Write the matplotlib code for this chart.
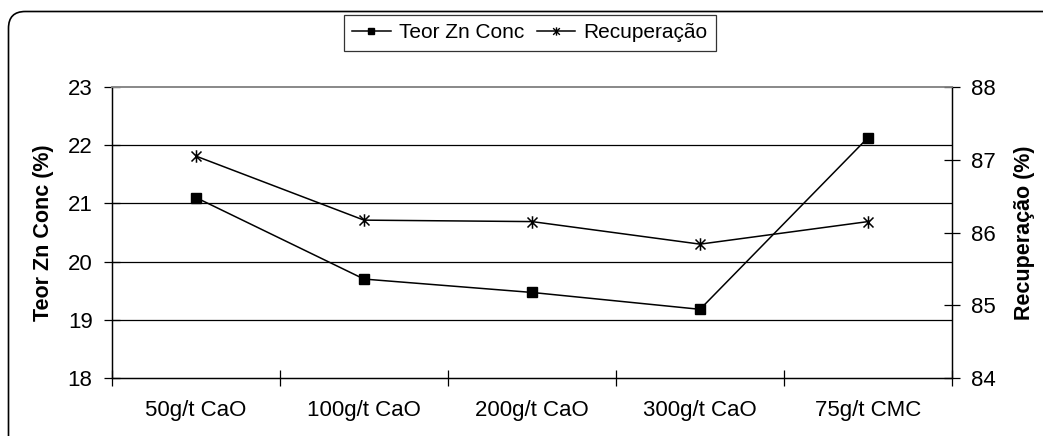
import matplotlib
matplotlib.use("Agg")
import matplotlib.pyplot as plt
from matplotlib.path import Path
from matplotlib.patches import FancyBboxPatch
from matplotlib.lines import Line2D

plt.rcParams['font.family'] = ['Liberation Sans', 'DejaVu Sans']

categories = ["50g/t CaO", "100g/t CaO", "200g/t CaO", "300g/t CaO", "75g/t CMC"]
teor_zn = [21.1, 19.7, 19.47, 19.18, 22.13]
recuperacao = [87.05, 86.17, 86.15, 85.84, 86.15]

left_ticks = [18, 19, 20, 21, 22, 23]
right_ticks = [84, 85, 86, 87, 88]

# asterisk marker: vertical stroke plus two diagonals
star = Path([(0, -1), (0, 1), (-0.8, -0.8), (0.8, 0.8), (-0.8, 0.8), (0.8, -0.8)],
            [Path.MOVETO, Path.LINETO, Path.MOVETO, Path.LINETO, Path.MOVETO, Path.LINETO])

W, H = 1043, 436
fig = plt.figure(figsize=(W / 100, H / 100), dpi=100)
ax = fig.add_axes([112 / W, 1 - 378 / H, (952 - 112) / W, (378 - 87) / H])
ax2 = ax.twinx()

x = list(range(len(categories)))
ax.plot(x, teor_zn, color='black', lw=1.1, marker='s', ms=6.5, mfc='black', mec='black',
        zorder=3, clip_on=False)
ax2.plot(x, recuperacao, color='black', lw=1.1, marker=star, ms=9, mew=1.1, mec='black',
         zorder=3, clip_on=False)

ax.set_xlim(-0.5, len(categories) - 0.5)
ax.set_ylim(18, 23)
ax2.set_ylim(84, 88)
ax.set_yticks(left_ticks)
ax2.set_yticks(right_ticks)
ax.set_xticks(x)
ax.set_xticklabels(categories)
ax.set_xticks([i - 0.5 for i in range(len(categories) + 1)], minor=True)

ax.tick_params(axis='x', which='major', length=0, pad=16, labelsize=16)
ax.tick_params(axis='x', which='minor', direction='inout', length=12, width=0.9)
ax.tick_params(axis='y', direction='inout', length=12, width=0.9, labelsize=16, pad=8)
ax2.tick_params(axis='y', direction='inout', length=12, width=0.9, labelsize=16, pad=8)

for yv in left_ticks[1:-1]:
    ax.axhline(yv, color='black', lw=0.9, zorder=1)

for sp in ('left', 'right', 'bottom'):
    ax.spines[sp].set_linewidth(0.9)
    ax2.spines[sp].set_linewidth(0.9)
ax.spines['top'].set_color('#888888')
ax2.spines['top'].set_color('#888888')
ax.spines['top'].set_linewidth(1.2)
ax2.spines['top'].set_linewidth(1.2)

ax.set_ylabel("Teor Zn Conc (%)", fontsize=15.5, fontweight='bold', labelpad=10)
ax2.set_ylabel("Recuperação (%)", fontsize=15.5, fontweight='bold', labelpad=13)

handles = [
    Line2D([], [], color='black', lw=1.1, marker='s', ms=4),
    Line2D([], [], color='black', lw=1.1, marker=star, ms=6, mew=1.0),
]
leg = fig.legend(handles, ["Teor Zn Conc", "Recuperação"], loc='center',
                 bbox_to_anchor=(530 / W, 1 - 33 / H), ncol=2, frameon=True,
                 fancybox=False, edgecolor='black', fontsize=15,
                 handlelength=1.85, handletextpad=0.4, columnspacing=0.6,
                 borderpad=0.4, borderaxespad=0)
leg.get_frame().set_linewidth(0.9)

# outer chart frame with rounded corner, running off the right and bottom edges
frame = FancyBboxPatch((8.5 / W, -0.2), 1.3, 1.2 - 11.5 / H,
                       boxstyle="round,pad=0,rounding_size=0.016",
                       transform=fig.transFigure, fill=False,
                       edgecolor='black', lw=1.2, mutation_aspect=W / H)
fig.patches.append(frame)

fig.savefig("out.png", dpi=100)
